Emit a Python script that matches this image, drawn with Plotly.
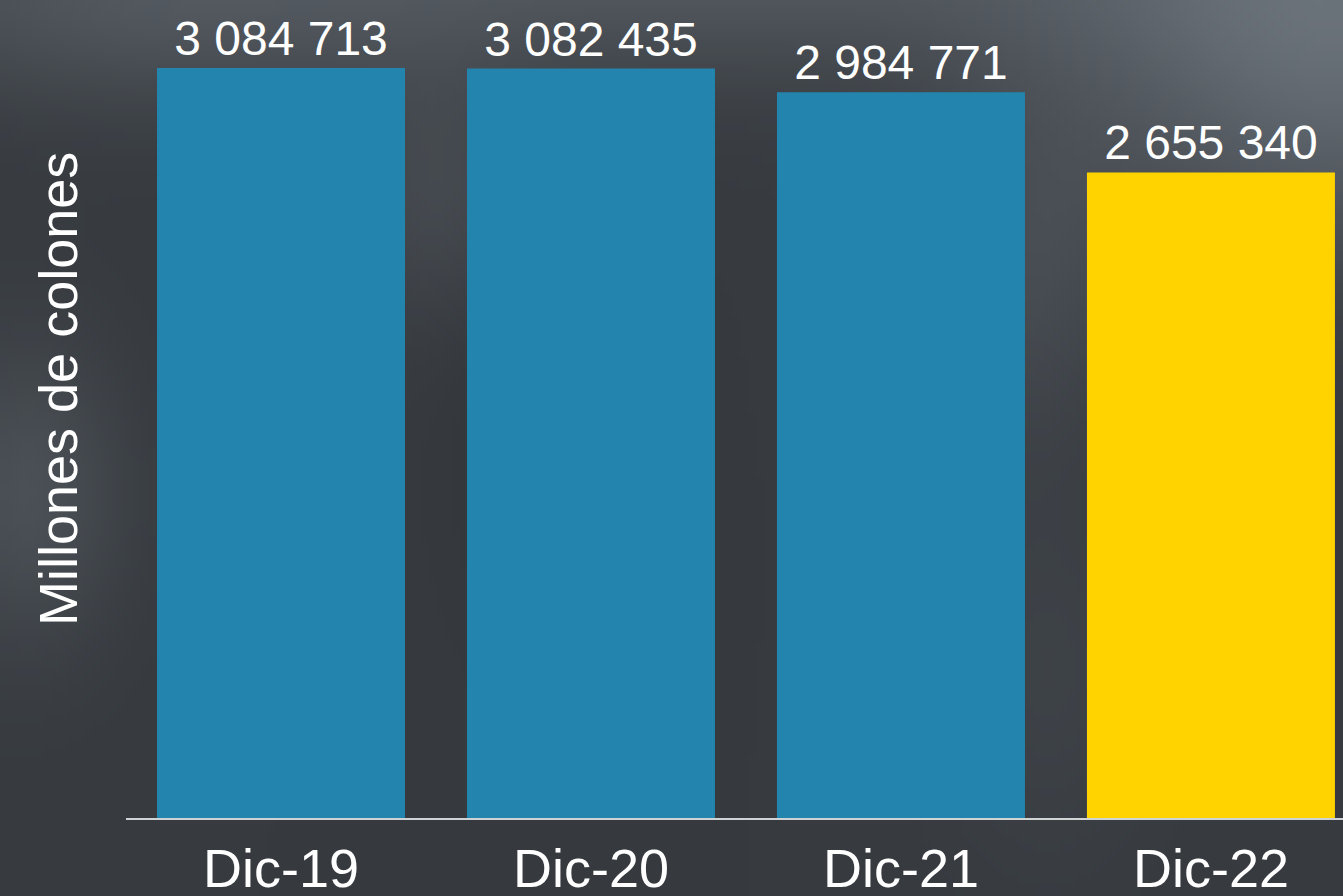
import base64
import struct
import zlib

import numpy as np
import plotly.graph_objects as go

# ---------------- data ----------------
categories = ["Dic-19", "Dic-20", "Dic-21", "Dic-22"]
values = [3084713, 3082435, 2984771, 2655340]
value_labels = ["3 084 713", "3 082 435", "2 984 771", "2 655 340"]
bar_colors = ["#2385AE", "#2385AE", "#2385AE", "#FFD300"]
y_title = "Millones de colones"

# ---------------- figure geometry ----------------
FIG_W, FIG_H = 1343, 896
M_L, M_R, M_T, M_B = 126, 0, 0, 78
PLOT_W = FIG_W - M_L - M_R
PLOT_H = FIG_H - M_T - M_B


# ---------------- background texture (soft dark gradient) ----------------
def make_background_png(w=168, h=112):
    u = (np.arange(w) + 0.5) / w
    v = (np.arange(h) + 0.5) / h
    U, V = np.meshgrid(u, v)

    def blob(cx, cy, sx, sy, amp):
        return amp * np.exp(-(((U - cx) / sx) ** 2 + ((V - cy) / sy) ** 2) / 2)

    light = (
        blob(0.50, -0.06, 0.42, 0.10, 30)
        + blob(1.00, 0.06, 0.14, 0.16, 42)
        + blob(0.02, 0.55, 0.05, 0.12, 20)
        + blob(0.33, 0.22, 0.06, 0.10, 14)
        + blob(0.76, 0.30, 0.06, 0.14, 14)
        + blob(0.10, 0.02, 0.14, 0.08, 12)
        + blob(0.78, 0.75, 0.06, 0.15, 7)
        - blob(0.40, 0.45, 0.05, 0.20, 5)
    )
    base = np.array([55.0, 59.0, 64.0])
    tint = np.array([1.0, 1.07, 1.12])
    img = base[None, None, :] + light[..., None] * tint[None, None, :]
    img = np.clip(img, 0, 255).astype(np.uint8)

    raw = b"".join(b"\x00" + img[r].tobytes() for r in range(h))

    def chunk(tag, data):
        out = struct.pack(">I", len(data)) + tag + data
        return out + struct.pack(">I", zlib.crc32(tag + data) & 0xFFFFFFFF)

    png = (
        b"\x89PNG\r\n\x1a\n"
        + chunk(b"IHDR", struct.pack(">IIBBBBB", w, h, 8, 2, 0, 0, 0))
        + chunk(b"IDAT", zlib.compress(raw, 9))
        + chunk(b"IEND", b"")
    )
    return "data:image/png;base64," + base64.b64encode(png).decode("ascii")


bg_src = make_background_png()

# ---------------- chart ----------------
fig = go.Figure(
    go.Bar(
        x=categories,
        y=values,
        marker=dict(color=bar_colors, line=dict(width=0)),
        text=value_labels,
        textposition="outside",
        textfont=dict(family="Liberation Sans, Arial, sans-serif", size=48, color="white"),
        constraintext="none",
        cliponaxis=False,
        hoverinfo="x+y",
        width=0.8,
    )
)

y_max = values[0] * PLOT_H / 750.0

fig.update_layout(
    width=FIG_W,
    height=FIG_H,
    margin=dict(l=M_L, r=M_R, t=M_T, b=M_B, pad=0, autoexpand=False),
    paper_bgcolor="#3b3f45",
    plot_bgcolor="rgba(0,0,0,0)",
    showlegend=False,
    font=dict(family="Liberation Sans, Arial, sans-serif", color="white"),
    xaxis=dict(
        type="category",
        range=[-0.5, 3.426],
        automargin=False,
        showgrid=False,
        zeroline=False,
        showline=True,
        linecolor="rgba(225,228,230,0.9)",
        linewidth=2,
        ticks="",
        tickfont=dict(size=54, color="white"),
        ticklabelstandoff=2,
        fixedrange=True,
    ),
    yaxis=dict(
        range=[0, y_max],
        automargin=False,
        showgrid=False,
        zeroline=False,
        showline=False,
        showticklabels=False,
        ticks="",
        fixedrange=True,
    ),
    images=[
        dict(
            source=bg_src,
            xref="paper",
            yref="paper",
            x=-M_L / PLOT_W,
            y=1 + M_T / PLOT_H,
            sizex=FIG_W / PLOT_W,
            sizey=FIG_H / PLOT_H,
            xanchor="left",
            yanchor="top",
            sizing="stretch",
            layer="below",
            opacity=1,
        )
    ],
    annotations=[
        dict(
            text=y_title,
            textangle=-90,
            xref="paper",
            yref="paper",
            x=(58 - M_L) / PLOT_W,
            y=(PLOT_H - 389) / PLOT_H,
            xanchor="center",
            yanchor="middle",
            showarrow=False,
            font=dict(size=54, color="white"),
        )
    ],
)

fig.write_html(
    "out.html",
    config={"displayModeBar": False},
    post_script="document.body.style.margin='0';document.body.style.overflow='hidden';",
)
